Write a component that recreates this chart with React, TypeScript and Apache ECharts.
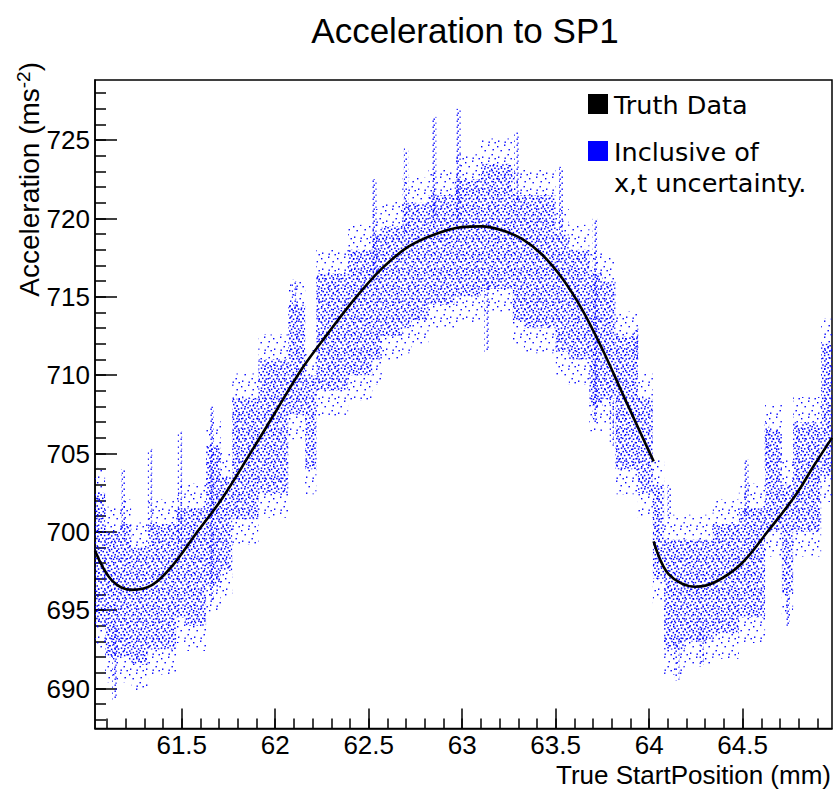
import React, { useEffect, useRef } from 'react';
import * as echarts from 'echarts';

// ---- axis ranges & ticks ----
const X_MIN = 61.036;
const X_MAX = 64.978;
const Y_MIN = 687.45;
const Y_MAX = 728.84;
const xMajorTicks = [61.5, 62, 62.5, 63, 63.5, 64, 64.5];
const xMinorTicks = [61.1, 61.2, 61.3, 61.4, 61.5, 61.6, 61.7, 61.8, 61.9, 62.0, 62.1, 62.2, 62.3, 62.4, 62.5, 62.6, 62.7, 62.8, 62.9, 63.0, 63.1, 63.2, 63.3, 63.4, 63.5, 63.6, 63.7, 63.8, 63.9, 64.0, 64.1, 64.2, 64.3, 64.4, 64.5, 64.6, 64.7, 64.8, 64.9];
const yMajorTicks = [690, 695, 700, 705, 710, 715, 720, 725];
const yMinorTicks = [688, 689, 690, 691, 692, 693, 694, 695, 696, 697, 698, 699, 700, 701, 702, 703, 704, 705, 706, 707, 708, 709, 710, 711, 712, 713, 714, 715, 716, 717, 718, 719, 720, 721, 722, 723, 724, 725, 726, 727, 728];

// ---- truth curve (two segments, jump at 64.02) ----
const truthX1 = [61.036, 61.126, 61.233, 61.340, 61.447, 61.571, 61.714, 61.856, 61.999, 62.142, 62.284, 62.427, 62.570, 62.712, 62.855, 62.997, 63.106, 63.213, 63.320, 63.427, 63.534, 63.641, 63.748, 63.855, 63.962, 64.024];
const truthY1 = [698.8, 696.9, 696.3, 696.6, 697.8, 699.8, 702.1, 704.8, 707.6, 710.4, 712.7, 714.9, 716.8, 718.2, 719.0, 719.45, 719.5, 719.25, 718.7, 717.7, 716.2, 714.2, 711.7, 708.9, 706.1, 704.5];
const truthX2 = [64.024, 64.104, 64.247, 64.353, 64.496, 64.639, 64.781, 64.880, 64.978];
const truthY2 = [699.4, 697.3, 696.5, 696.8, 698.0, 700.1, 702.3, 704.2, 706.0];

// ---- smeared measurements: dense column bands ----
const cloudEdges = [61.03, 61.09, 61.17, 61.23, 61.32, 61.47, 61.52, 61.63, 61.71, 61.77, 61.91, 62.07, 62.16, 62.22, 62.39, 62.52, 62.57, 62.68, 62.73, 62.82, 62.87, 62.96, 63.10, 63.27, 63.33, 63.50, 63.57, 63.68, 63.75, 63.82, 63.94, 64.02, 64.08, 64.19, 64.34, 64.48, 64.62, 64.71, 64.77, 64.92, 64.98];
const cloudLow = [694.0, 692.0, 692.0, 691.5, 692.5, 694.5, 694.0, 696.5, 697.5, 700.8, 702.5, 707.5, 704.0, 709.0, 710.0, 711.0, 712.5, 713.0, 713.5, 714.5, 714.5, 715.0, 715.5, 713.5, 713.0, 711.5, 711.0, 708.0, 708.5, 704.0, 702.5, 697.0, 692.5, 693.0, 693.5, 694.5, 700.0, 696.0, 700.0, 703.5];
const cloudHigh = [702.5, 700.0, 700.5, 699.0, 700.5, 701.5, 701.5, 705.5, 703.5, 708.5, 711.0, 714.5, 710.0, 716.5, 718.0, 719.0, 719.5, 721.0, 721.0, 721.5, 721.5, 722.5, 723.5, 721.5, 721.5, 719.0, 718.0, 716.5, 716.0, 712.5, 708.5, 703.0, 699.5, 699.5, 700.5, 701.5, 706.5, 703.0, 707.0, 712.0];

// ---- sparse vertical streaks ----
const streakX = [61.14, 61.19, 61.33, 61.49, 61.66, 62.10, 62.53, 62.70, 62.85, 62.98, 63.13, 63.29, 63.53, 63.71, 63.80, 63.93, 64.11, 64.15, 64.28, 64.52, 64.63, 64.74];
const streakLow = [689.3, 700.0, 700.0, 698.5, 695.5, 714.0, 716.0, 719.0, 720.0, 720.0, 711.5, 721.0, 719.0, 707.0, 705.5, 711.0, 701.0, 690.5, 691.5, 701.0, 704.0, 694.0];
const streakHigh = [694.0, 704.0, 705.3, 706.4, 708.0, 716.0, 722.5, 724.5, 726.5, 727.0, 716.0, 725.5, 723.3, 720.0, 708.5, 713.0, 703.0, 693.0, 694.0, 704.6, 707.0, 696.0];

function makeTile(size: number, dots: number[][], dot: number) {
  const rects = dots
    .map(([x, y]) => `<rect x='${x}' y='${y}' width='${dot}' height='${dot}' fill='#0000ff'/>`)
    .join('');
  const svg = `<svg xmlns='http://www.w3.org/2000/svg' width='${size}' height='${size}'>${rects}</svg>`;
  return {
    image: 'data:image/svg+xml;charset=utf-8,' + encodeURIComponent(svg),
    repeat: 'repeat',
    imageWidth: size,
    imageHeight: size,
  };
}

// texture tiles (speckle look of the point cloud)
const denseTile = makeTile(20, [
  [0.3, 1.2], [4.1, 0.2], [7.6, 2.1], [11.2, 0.8], [14.7, 1.9], [18.1, 0.4],
  [2.2, 4.3], [5.8, 3.6], [9.4, 5.0], [13.0, 3.9], [16.5, 5.2],
  [0.8, 7.4], [4.0, 8.1], [7.3, 7.0], [10.9, 8.6], [14.2, 7.5], [17.8, 8.3],
  [2.5, 10.9], [6.1, 11.6], [9.0, 10.3], [12.6, 11.9], [15.9, 10.6], [18.4, 12.0],
  [0.4, 14.1], [3.9, 14.8], [7.7, 13.9], [11.0, 15.2], [14.5, 14.0], [17.2, 15.6],
  [2.0, 17.6], [5.5, 18.3], [9.2, 17.4], [12.8, 18.5], [16.1, 17.8], [18.5, 18.6],
], 1.5);
const haloTile = makeTile(16, [[1, 2], [8, 0.5], [4.5, 6], [12.5, 5], [11.5, 10], [2, 12.5], [8.5, 13.5], [14.5, 14]], 1.4);
const streakTile = makeTile(6, [[0.5, 0.5], [3.5, 2.5], [1.5, 4.5]], 1.4);

const lineFont = 'Liberation Sans, Arial, Helvetica, sans-serif';
const legendFont = 'DejaVu Sans, sans-serif';

function bandRender(tile: any, pad: number) {
  return (params: any, api: any) => {
    const p0 = api.coord([api.value(0), api.value(3) + pad]);
    const p1 = api.coord([api.value(1), api.value(2) - pad]);
    return {
      type: 'rect',
      shape: { x: p0[0], y: p0[1], width: p1[0] - p0[0], height: p1[1] - p0[1] },
      style: { fill: tile },
      silent: true,
    };
  };
}

export default function App() {
  const ref = useRef<HTMLDivElement>(null);
  useEffect(() => {
    const chart = echarts.init(ref.current!, null, { renderer: 'svg', width: 834, height: 789 });
    const cloudData = cloudLow.map((lo, i) => [cloudEdges[i], cloudEdges[i + 1], lo, cloudHigh[i]]);
    const streakData = streakX.map((x, i) => [x - 0.012, x + 0.012, streakLow[i], streakHigh[i]]);
    const seg1 = truthX1.map((x, i) => [x, truthY1[i]]);
    const seg2 = truthX2.map((x, i) => [x, truthY2[i]]);

    const axisLineStyle = { color: '#000', width: 1.5 };
    const labelStyle = { fontSize: 26, fontFamily: lineFont, color: '#000', margin: 5, lineHeight: 22 };
    const option: any = {
      animation: false,
      backgroundColor: '#fff',
      grid: { left: 95, top: 80, width: 737, height: 648.5, show: true, borderColor: '#000', borderWidth: 1.5, backgroundColor: 'transparent' },
      xAxis: [
        {
          type: 'value', min: X_MIN, max: X_MAX, position: 'bottom',
          axisLine: { show: true, lineStyle: axisLineStyle },
          axisTick: { show: true, inside: true, length: 20, customValues: xMajorTicks, lineStyle: axisLineStyle },
          axisLabel: { show: true, customValues: xMajorTicks, ...labelStyle, margin: 5 },
          splitLine: { show: false },
        },
        {
          type: 'value', min: X_MIN, max: X_MAX, position: 'bottom',
          axisLine: { show: false },
          axisTick: { show: true, inside: true, length: 10, customValues: xMinorTicks, lineStyle: axisLineStyle },
          axisLabel: { show: false },
          splitLine: { show: false },
        },
      ],
      yAxis: [
        {
          type: 'value', min: Y_MIN, max: Y_MAX, position: 'left',
          axisLine: { show: true, lineStyle: axisLineStyle },
          axisTick: { show: true, inside: true, length: 22, customValues: yMajorTicks, lineStyle: axisLineStyle },
          axisLabel: { show: true, customValues: yMajorTicks, ...labelStyle },
          splitLine: { show: false },
        },
        {
          type: 'value', min: Y_MIN, max: Y_MAX, position: 'left',
          axisLine: { show: false },
          axisTick: { show: true, inside: true, length: 11, customValues: yMinorTicks, lineStyle: axisLineStyle },
          axisLabel: { show: false },
          splitLine: { show: false },
        },
      ],
      series: [
        {
          type: 'custom', name: 'halo', xAxisIndex: 0, yAxisIndex: 0, clip: true, silent: true,
          renderItem: bandRender(haloTile, 1.6), data: cloudData, z: 1,
        },
        {
          type: 'custom', name: 'Inclusive of x,t uncertainty.', xAxisIndex: 0, yAxisIndex: 0, clip: true, silent: true,
          renderItem: bandRender(denseTile, 0), data: cloudData, z: 2,
        },
        {
          type: 'custom', name: 'streaks', xAxisIndex: 0, yAxisIndex: 0, clip: true, silent: true,
          renderItem: bandRender(streakTile, 0), data: streakData, z: 3,
        },
        {
          type: 'line', name: 'Truth Data', data: seg1, xAxisIndex: 0, yAxisIndex: 0,
          showSymbol: false, symbol: 'none', smooth: 0.35,
          lineStyle: { color: '#000', width: 2.6 }, z: 10, silent: true,
        },
        {
          type: 'line', name: 'Truth Data', data: seg2, xAxisIndex: 0, yAxisIndex: 0,
          showSymbol: false, symbol: 'none', smooth: 0.35,
          lineStyle: { color: '#000', width: 2.6 }, z: 10, silent: true,
        },
      ],
      graphic: [
        {
          type: 'text', x: 465, y: 30, z: 100,
          style: { text: 'Acceleration to SP1', font: `35px ${lineFont}`, fill: '#000', align: 'center', verticalAlign: 'middle' },
        },
        {
          type: 'text', x: 831, y: 775, z: 100,
          style: { text: 'True StartPosition (mm)', font: `26px ${lineFont}`, lineHeight: 22, fill: '#000', align: 'right', verticalAlign: 'middle' },
        },
        {
          type: 'text', x: 29, y: 62, rotation: Math.PI / 2, z: 100,
          style: {
            text: 'Acceleration (ms{sup|-2})',
            font: `28px ${lineFont}`, fill: '#000', align: 'right', verticalAlign: 'middle',
            rich: { sup: { fontSize: 19, fontFamily: lineFont, fill: '#000', verticalAlign: 'top', padding: [0, 0, 12, 0] } },
          },
        },
        { type: 'rect', shape: { x: 588, y: 94, width: 20, height: 20 }, style: { fill: '#000' }, z: 100 },
        {
          type: 'text', x: 614, y: 105, z: 100,
          style: { text: 'Truth Data', font: `25.5px ${legendFont}`, fill: '#000', align: 'left', verticalAlign: 'middle' },
        },
        { type: 'rect', shape: { x: 588, y: 141, width: 20, height: 20 }, style: { fill: '#0000ff' }, z: 100 },
        {
          type: 'text', x: 614, y: 152, z: 100,
          style: { text: 'Inclusive of', font: `25.5px ${legendFont}`, fill: '#000', align: 'left', verticalAlign: 'middle' },
        },
        {
          type: 'text', x: 614, y: 183, z: 100,
          style: { text: 'x,t uncertainty.', font: `25.5px ${legendFont}`, fill: '#000', align: 'left', verticalAlign: 'middle' },
        },
      ],
    };
    chart.setOption(option);
    return () => chart.dispose();
  }, []);
  return (
    <div
      ref={ref}
      style={{ position: 'absolute', left: 0, top: 0, width: 834, height: 789, background: '#fff' }}
    />
  );
}
